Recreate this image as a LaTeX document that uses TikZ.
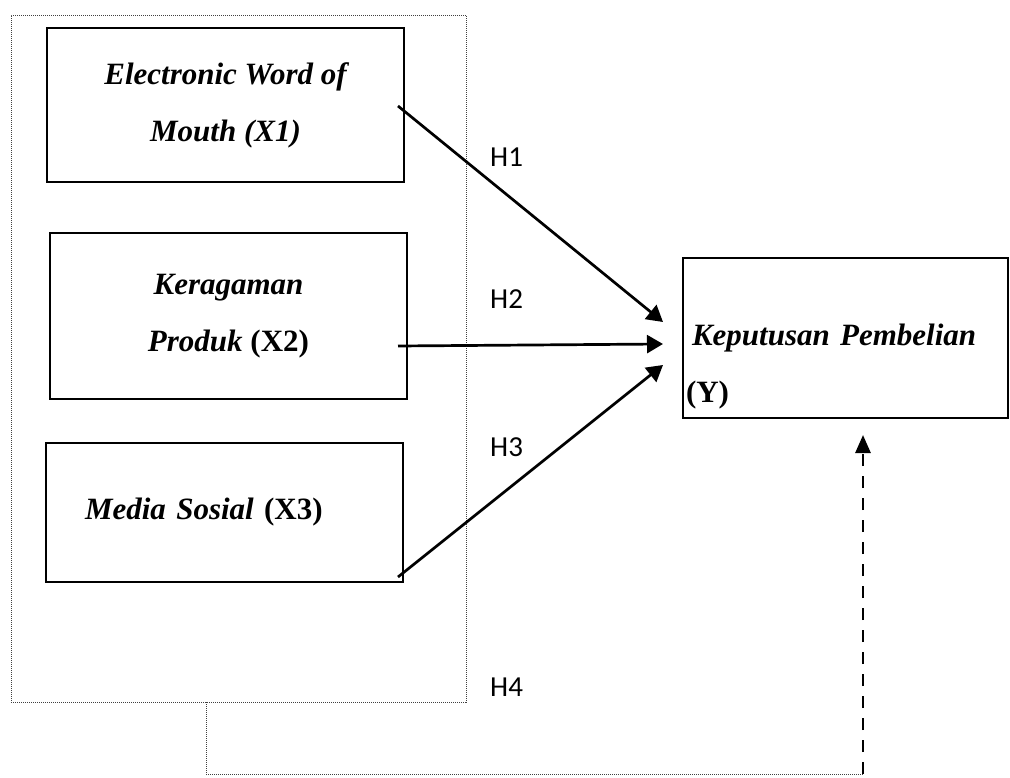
\documentclass[tikz,border=0pt]{standalone}
\usepackage{fontspec}
\setmainfont{Liberation Serif}
\newfontfamily\lblfont{Carlito}
\usetikzlibrary{arrows.meta}

\begin{document}
\begin{tikzpicture}[x=1pt, y=-1pt,
    varbox/.style={draw, line width=2.7pt, rectangle, outer sep=0pt, inner sep=0pt,
                   minimum width=357pt, align=center,
                   font=\bfseries\itshape\fontsize{31}{57}\selectfont},
    depbox/.style={draw, line width=2.7pt, rectangle, outer sep=0pt, inner xsep=3pt,
                   minimum width=325pt, minimum height=160pt, text width=319pt, align=left,
                   font=\bfseries\itshape\fontsize{31}{57}\selectfont},
    grpbox/.style={draw, line width=0.8pt, black!75, dash pattern=on 1pt off 1pt,
                   outer sep=0pt, inner sep=0pt},
    fbline/.style={line width=0.8pt, black!75, dash pattern=on 1pt off 1pt},
    hyplbl/.style={anchor=west, inner sep=0pt, font=\lblfont\fontsize{29}{35}\selectfont},
    arr/.style={-{Triangle[length=16pt, width=18pt]}, line width=2.7pt},
    dasharr/.style={-{Triangle[length=18pt, width=15pt]}, line width=2.7pt,
                    dash pattern=on 12pt off 10pt}
]
    \useasboundingbox (0,0) rectangle (1010,778);

    % dotted frame round the independent variables
    \node[grpbox, minimum width=455pt, minimum height=687pt] (grp) at (238.5,358.5) {};

    \node[varbox, minimum height=154pt] (x1) at (225.5,105) {Electronic Word of\\Mouth (X1)};
    \node[varbox, minimum height=166pt] (x2) at (228.5,316) {Keragaman\\Produk \textup{(X2)}};
    \node[varbox, minimum height=139pt, text width=279pt, inner xsep=39pt, align=left]
        (x3) at (224.5,512.5) {Media Sosial \textup{(X3)}};
    \node[depbox] (y) at (845.5,338) {\mbox{}\\[22pt]\hspace*{6pt}Keputusan Pembelian\\\textup{(Y)}};

    \draw[arr] ([xshift=-6pt, yshift=-1pt]x1.east) -- ([xshift=-20pt, yshift=16pt]y.west);
    \draw[arr] ([xshift=-9pt, yshift=-30pt]x2.east) -- ([xshift=-20pt, yshift=-6pt]y.west);
    \draw[arr] ([xshift=-5pt, yshift=5pt]x3.south east) -- ([xshift=-20pt, yshift=-27pt]y.west);

    \node[hyplbl] (h1) at (490,157) {H1};
    \node[hyplbl] (h2) at (490,299) {H2};
    \node[hyplbl] (h3) at (490,447) {H3};
    \node[hyplbl] (h4) at (490,687) {H4};

    % simultaneous path H4
    \coordinate (fbx) at (206,774);
    \coordinate (fbturn) at (863,774);
    \draw[fbline] (grp.south -| fbx) -- (fbx) -- (fbturn);
    \draw[dasharr] (fbturn) -- ([yshift=-17pt]y.south -| fbturn);
\end{tikzpicture}
\end{document}
